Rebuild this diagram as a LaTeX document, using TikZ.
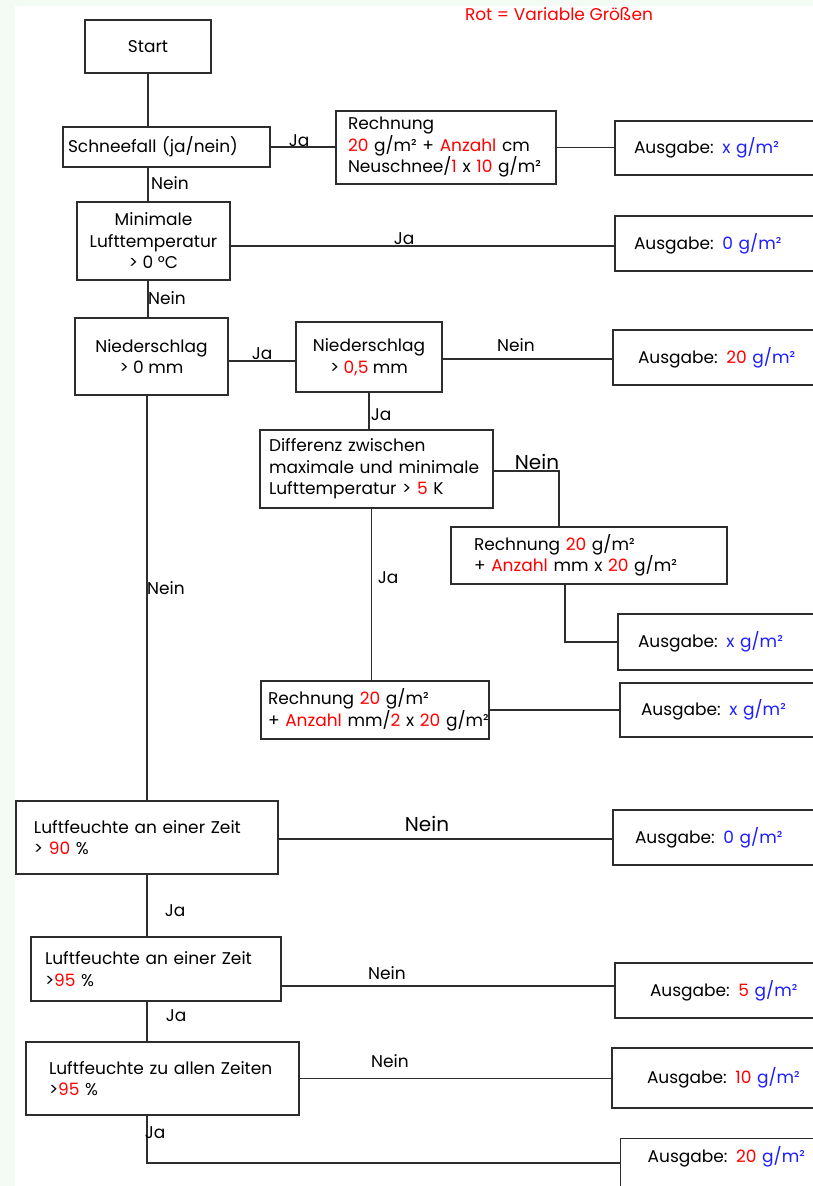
\documentclass[tikz,border=0pt]{standalone}
\usepackage{fontspec}
\setmainfont{Poppins}
\usetikzlibrary{calc}
\definecolor{bgg}{RGB}{244,250,244}
\definecolor{vred}{RGB}{255,0,0}
\definecolor{vblue}{RGB}{30,30,255}
\definecolor{lin}{RGB}{45,45,45}
\newcommand{\rv}[1]{\textcolor{vred}{#1}}
\newcommand{\bv}[1]{\textcolor{vblue}{#1}}
\tikzset{
  box/.style={draw=lin, line width=1.4pt, rectangle, inner sep=0pt, font=\fontsize{17}{21.5}\selectfont},
  lbox/.style={box, align=left},
  cbox/.style={box, align=center},
  conn/.style={draw=lin, line width=1.4pt},
  lab/.style={font=\fontsize{17}{19}\selectfont, inner sep=0pt},
  biglab/.style={font=\fontsize{20}{22}\selectfont, inner sep=0pt},
}
\begin{document}
\begin{tikzpicture}[x=1pt,y=-1pt]
\useasboundingbox (0,0) rectangle (813,1186);
\fill[bgg] (0,0) rectangle (813,1186);
\fill[white] (15,6) rectangle (813,1186);
\clip (0,0) rectangle (813,1186);

\node[lab, text=vred] (title) at (559,14) {Rot = Variable Größen};

\node[cbox, minimum width=126, minimum height=53] (start) at (148,46.5) {Start};
\node[lbox, minimum width=207, minimum height=40, text width=197, inner xsep=5] (schnee) at (166.5,147) {\mbox{Schneefall (ja/nein)}};
\node[lbox, minimum width=220, minimum height=73, text width=196, inner xsep=12] (rech1) at (446,147.5) {\mbox{Rechnung}\\\mbox{\rv{20} g/m² + \rv{Anzahl} cm}\\\mbox{Neuschnee/\rv{1} x \rv{10} g/m²}};
\node[lbox, minimum width=220, minimum height=54, text width=182, inner xsep=19] (aus1) at (725,148) {\mbox{Ausgabe: \bv{x g/m²}}};

\node[cbox, minimum width=153, minimum height=78] (minimal) at (153.5,241) {Minimale\\Lufttemperatur\\> 0 °C};
\node[lbox, minimum width=220, minimum height=55, text width=182, inner xsep=19] (aus2) at (725,243.5) {\mbox{Ausgabe: \bv{0 g/m²}}};

\node[cbox, minimum width=153, minimum height=77] (nied1) at (151.5,356.5) {Niederschlag\\> 0 mm};
\node[cbox, minimum width=146, minimum height=70] (nied2) at (369,357) {Niederschlag\\> \rv{0,5} mm};
\node[lbox, minimum width=222, minimum height=55, text width=172, inner xsep=25] (aus3) at (724,357.5) {\mbox{Ausgabe: \rv{20} \bv{g/m²}}};

\node[lbox, minimum width=233, minimum height=78, text width=215, inner xsep=9] (diff) at (376.5,469) {\mbox{Differenz zwischen}\\\mbox{maximale und minimale}\\\mbox{Lufttemperatur > \rv{5} K}};
\node[lbox, minimum width=276, minimum height=57, text width=230, inner xsep=23] (rech2) at (589,555.5) {\mbox{Rechnung \rv{20} g/m²}\\\mbox{+ \rv{Anzahl} mm x \rv{20} g/m²}};
\node[lbox, minimum width=217, minimum height=56, text width=177, inner xsep=20] (aus4) at (726.5,642) {\mbox{Ausgabe: \bv{x g/m²}}};

\node[lbox, minimum width=228, minimum height=58, text width=214, inner xsep=7] (rech3) at (375,710) {\mbox{Rechnung \rv{20} g/m²}\\\mbox{+ \rv{Anzahl} mm/\rv{2} x \rv{20} g/m²}};
\node[lbox, minimum width=215, minimum height=54, text width=173, inner xsep=21] (aus5) at (727.5,710) {\mbox{Ausgabe: \bv{x g/m²}}};

\node[lbox, minimum width=262, minimum height=73, text width=226, inner xsep=18] (lf1) at (147,837.5) {\mbox{Luftfeuchte an einer Zeit}\\\mbox{> \rv{90} \%}};
\node[lbox, minimum width=222, minimum height=55, text width=178, inner xsep=22] (aus6) at (724,837.5) {\mbox{Ausgabe: \bv{0 g/m²}}};

\node[lbox, minimum width=250, minimum height=64, text width=222, inner xsep=14] (lf2) at (156,969) {\mbox{Luftfeuchte an einer Zeit}\\\mbox{>\rv{95} \%}};
\node[lbox, minimum width=220, minimum height=55, text width=150, inner xsep=35] (aus7) at (725,990.5) {\mbox{Ausgabe: \rv{5} \bv{g/m²}}};

\node[lbox, minimum width=273, minimum height=73, text width=227, inner xsep=23] (lf3) at (162.5,1078.5) {\mbox{Luftfeuchte zu allen Zeiten}\\\mbox{>\rv{95} \%}};
\node[lbox, minimum width=223, minimum height=60, text width=153, inner xsep=35] (aus8) at (723.5,1078) {\mbox{Ausgabe: \rv{10} \bv{g/m²}}};

\node[lbox, anchor=north west, minimum width=215, text width=161, inner xsep=27, inner ysep=12, text height=12, text depth=60] (aus9) at (620,1138) {\mbox{Ausgabe: \rv{20} \bv{g/m²}}};
\coordinate (j9) at ([yshift=-25pt]aus9.north west);

% connectors
\draw[conn] (start.south) -- (start.south |- schnee.north);
\draw[conn] (schnee.east) -- (rech1.west |- schnee.east);
\draw[conn] (rech1.east) -- (aus1.west |- rech1.east);
\draw[conn] (start.south |- schnee.south) -- (start.south |- minimal.north);
\draw[conn] (minimal.east |- 0,246) -- (aus2.west |- 0,246);
\draw[conn] (start.south |- minimal.south) -- (start.south |- nied1.north);
\draw[conn] (nied1.east |- 0,361) -- (nied2.west |- 0,361);
\draw[conn] (nied2.east |- 0,359) -- (aus3.west |- 0,359);
\draw[conn] (nied2.south) -- (nied2.south |- diff.north);
\draw[conn] (diff.east |- 0,471) -| ([xshift=-30pt]rech2.north);
\draw[conn] ([xshift=-24pt]rech2.south) |- (aus4.west);
\draw[conn] ([xshift=-5pt]diff.south) -- ([xshift=-5pt]diff.south |- rech3.north);
\draw[conn] (rech3.east) -- (aus5.west |- rech3.east);
\draw[conn] (lf1.north |- nied1.south) -- (lf1.north);
\draw[conn] (lf1.east |- 0,839) -- (aus6.west |- 0,839);
\draw[conn] (lf1.south) -- (lf1.south |- lf2.north);
\draw[conn] (lf2.east |- 0,986) -- (aus7.west |- 0,986);
\draw[conn] (lf1.south |- lf2.south) -- (lf1.south |- lf3.north);
\draw[conn] (lf3.east) -- (aus8.west |- lf3.east);
\draw[conn] (lf1.south |- lf3.south) |- (j9);

% labels
\node[lab] (l1) at (299,141) {Ja};
\node[lab] (l2) at (170,183) {Nein};
\node[lab] (l3) at (404,239) {Ja};
\node[lab] (l4) at (167,298) {Nein};
\node[lab] (l5) at (262,354) {Ja};
\node[lab] (l6) at (516,345) {Nein};
\node[lab] (l7) at (381,415) {Ja};
\node[biglab] (l8) at (537,462) {Nein};
\node[lab] (l9) at (388,578) {Ja};
\node[lab] (l10) at (166,588) {Nein};
\node[biglab] (l11) at (427,824) {Nein};
\node[lab] (l12) at (175,911) {Ja};
\node[lab] (l13) at (387,973) {Nein};
\node[lab] (l14) at (176,1016) {Ja};
\node[lab] (l15) at (390,1061) {Nein};
\node[lab] (l16) at (155,1133) {Ja};
\end{tikzpicture}
\end{document}
